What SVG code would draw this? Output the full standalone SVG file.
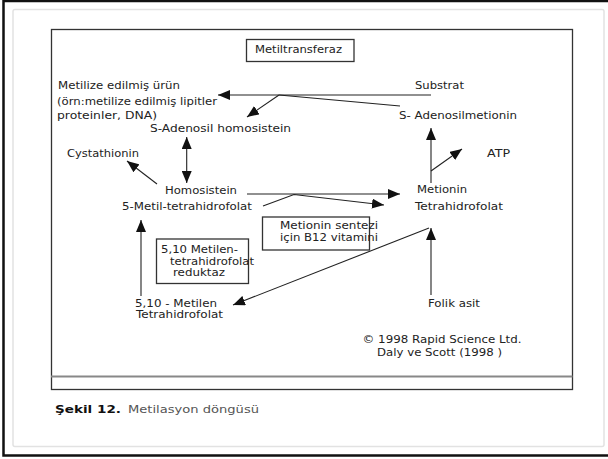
<svg xmlns="http://www.w3.org/2000/svg" width="608" height="459" viewBox="0 0 608 459">
<defs>
<style>
text{font-family:"DejaVu Sans","Liberation Sans",sans-serif;font-size:10px;fill:#222}
.ln{stroke:#222;stroke-width:1.1;fill:none}
.ar{marker-end:url(#ah)}
.bx{fill:none;stroke:#333;stroke-width:1.3}
</style>
<marker id="ah" markerWidth="12" markerHeight="10" refX="12" refY="5" orient="auto-start-reverse" markerUnits="userSpaceOnUse">
<path d="M0,0 L12,5 L0,10 z" fill="#111"/>
</marker>
</defs>
<rect x="0" y="0" width="608" height="459" fill="#fff"/>
<rect x="3.5" y="1" width="610" height="454.5" fill="none" stroke="#111" stroke-width="2.5"/>
<rect x="13" y="9.5" width="591" height="437" rx="2" fill="none" stroke="#e2e2e2" stroke-width="1.5"/>
<rect x="51.5" y="29.5" width="521" height="360" fill="none" stroke="#333" stroke-width="1.3"/>
<line x1="51" y1="376.5" x2="572.5" y2="376.5" stroke="#888" stroke-width="2"/>

<g id="metiltransferaz"><rect class="bx" x="246.5" y="39.5" width="107.5" height="22"/><text x="255" y="53" textLength="87" lengthAdjust="spacingAndGlyphs">Metiltransferaz</text></g>
<g id="metilize-urun"><text x="58" y="89" textLength="122" lengthAdjust="spacingAndGlyphs">Metilize edilmiş ürün</text><text x="57" y="104.5" textLength="160" lengthAdjust="spacingAndGlyphs">(örn:metilize edilmiş lipitler</text><text x="57" y="119" textLength="100" lengthAdjust="spacingAndGlyphs">proteinler, DNA)</text></g>
<g id="sah"><text x="150" y="132" textLength="141" lengthAdjust="spacingAndGlyphs">S-Adenosil homosistein</text></g>
<g id="substrat"><text x="415" y="89" textLength="49" lengthAdjust="spacingAndGlyphs">Substrat</text></g>
<g id="sam"><text x="399" y="119" textLength="118" lengthAdjust="spacingAndGlyphs">S- Adenosilmetionin</text></g>
<g id="cystathionin"><text x="67" y="157" textLength="72" lengthAdjust="spacingAndGlyphs">Cystathionin</text></g>
<g id="atp"><text x="487" y="157" textLength="23" lengthAdjust="spacingAndGlyphs">ATP</text></g>
<g id="homosistein"><text x="165" y="193.5" textLength="72" lengthAdjust="spacingAndGlyphs">Homosistein</text><text x="122" y="210" textLength="130" lengthAdjust="spacingAndGlyphs">5-Metil-tetrahidrofolat</text></g>
<g id="metionin"><text x="417" y="193" textLength="50" lengthAdjust="spacingAndGlyphs">Metionin</text><text x="415" y="210" textLength="88" lengthAdjust="spacingAndGlyphs">Tetrahidrofolat</text></g>
<g id="b12"><rect class="bx" x="262.5" y="217" width="107" height="33"/><text x="280" y="228.5" textLength="98" lengthAdjust="spacingAndGlyphs">Metionin sentezi</text><text x="280" y="241" textLength="98" lengthAdjust="spacingAndGlyphs">için B12 vitamini</text></g>
<g id="mthfr"><rect class="bx" x="156.5" y="239" width="92" height="44.5"/><text x="161" y="253" textLength="77" lengthAdjust="spacingAndGlyphs">5,10 Metilen-</text><text x="170" y="264.5" textLength="84" lengthAdjust="spacingAndGlyphs">tetrahidrofolat</text><text x="173" y="276" textLength="52" lengthAdjust="spacingAndGlyphs">reduktaz</text></g>
<g id="metilen-thf"><text x="135" y="307" textLength="82" lengthAdjust="spacingAndGlyphs">5,10 - Metilen</text><text x="136" y="318" textLength="87" lengthAdjust="spacingAndGlyphs">Tetrahidrofolat</text></g>
<g id="folik"><text x="428" y="307" textLength="52" lengthAdjust="spacingAndGlyphs">Folik asit</text></g>
<g id="credit"><text x="362.5" y="343" textLength="159" lengthAdjust="spacingAndGlyphs">© 1998 Rapid Science Ltd.</text><text x="377" y="356" textLength="125" lengthAdjust="spacingAndGlyphs">Daly ve Scott (1998 )</text></g>
<g id="caption"><text x="55" y="413" style="font-size:11px;font-weight:bold;fill:#111" textLength="66" lengthAdjust="spacingAndGlyphs">Şekil 12.</text><text x="128" y="413" style="font-size:11px;fill:#555" textLength="131" lengthAdjust="spacingAndGlyphs">Metilasyon döngüsü</text></g>

<g id="connectors">
<line class="ln ar" x1="431" y1="95" x2="218" y2="95"/>
<line class="ln" x1="279" y1="95" x2="400" y2="106"/>
<line class="ln ar" x1="279" y1="95" x2="247" y2="117"/>
<line class="ln ar" x1="186.7" y1="137" x2="186.7" y2="183" style="marker-start:url(#ah)"/>
<line class="ln ar" x1="157" y1="184" x2="127" y2="161"/>
<line class="ln ar" x1="431" y1="183" x2="431" y2="128"/>
<line class="ln ar" x1="431" y1="171" x2="462" y2="149"/>
<line class="ln ar" x1="247" y1="194" x2="400" y2="194"/>
<polyline class="ln ar" points="263,206 294,194.5 384,205"/>
<line class="ln ar" x1="141" y1="296" x2="141" y2="220"/>
<line class="ln ar" x1="431" y1="295" x2="431" y2="228"/>
<line class="ln ar" x1="429" y1="228" x2="233" y2="305"/>
</g>
</svg>
